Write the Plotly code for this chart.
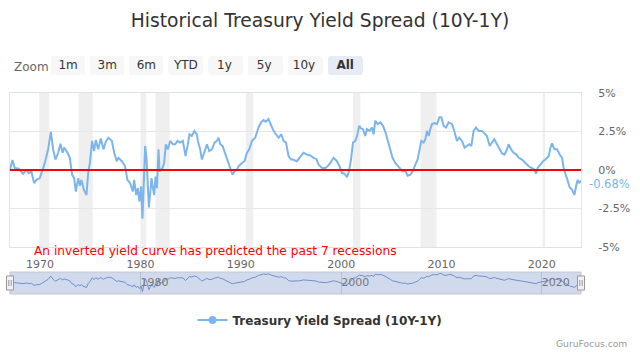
import pandas as pd
import plotly.graph_objects as go

# ---------------- data ----------------
YEARS = [
    1967.00, 1967.24, 1967.47, 1967.87, 1968.30, 1968.63, 1968.87, 1969.13, 1969.40, 1969.63,
    1969.97, 1970.13, 1970.47, 1970.80, 1971.07, 1971.30, 1971.53, 1971.80, 1972.03, 1972.23,
    1972.40, 1972.73, 1972.96, 1973.19, 1973.39, 1973.56, 1973.79, 1973.96, 1974.12, 1974.36,
    1974.62, 1974.79, 1974.96, 1975.18, 1975.38, 1975.55, 1975.78, 1976.05, 1976.31, 1976.58,
    1976.81, 1977.15, 1977.38, 1977.64, 1977.81, 1978.14, 1978.47, 1978.70, 1978.97, 1979.24,
    1979.37, 1979.57, 1979.74, 1979.90, 1980.07, 1980.20, 1980.34, 1980.47, 1980.60, 1980.70,
    1980.84, 1980.97, 1981.10, 1981.24, 1981.37, 1981.50, 1981.64, 1981.80, 1981.90, 1982.06,
    1982.20, 1982.36, 1982.53, 1982.73, 1982.96, 1983.23, 1983.46, 1983.69, 1983.96, 1984.23,
    1984.49, 1984.69, 1984.89, 1985.12, 1985.38, 1985.62, 1985.72, 1985.95, 1986.12, 1986.35,
    1986.62, 1986.85, 1987.12, 1987.38, 1987.62, 1987.78, 1987.95, 1988.18, 1988.45, 1988.71,
    1988.94, 1989.17, 1989.37, 1989.61, 1989.77, 1990.11, 1990.37, 1990.61, 1990.84, 1991.11,
    1991.44, 1991.76, 1992.03, 1992.26, 1992.50, 1992.76, 1993.03, 1993.26, 1993.50, 1993.76,
    1994.03, 1994.26, 1994.50, 1994.76, 1995.00, 1995.19, 1995.59, 1995.85, 1996.25, 1996.59,
    1996.92, 1997.25, 1997.52, 1997.75, 1998.09, 1998.42, 1998.65, 1998.91, 1999.24, 1999.58,
    1999.84, 2000.08, 2000.34, 2000.58, 2000.78, 2000.98, 2001.18, 2001.41, 2001.58, 2001.81,
    2001.98, 2002.18, 2002.40, 2002.57, 2002.84, 2003.07, 2003.23, 2003.40, 2003.63, 2003.90,
    2004.17, 2004.40, 2004.63, 2004.90, 2005.12, 2005.39, 2005.66, 2005.89, 2006.12, 2006.39,
    2006.62, 2006.89, 2007.12, 2007.39, 2007.62, 2007.82, 2007.99, 2008.22, 2008.39, 2008.55,
    2008.72, 2008.88, 2009.05, 2009.31, 2009.55, 2009.78, 2009.98, 2010.21, 2010.45, 2010.71,
    2011.05, 2011.31, 2011.54, 2011.77, 2012.04, 2012.30, 2012.54, 2012.77, 2012.97, 2013.20,
    2013.44, 2013.70, 2014.04, 2014.20, 2014.53, 2014.80, 2015.03, 2015.26, 2015.53, 2015.79,
    2016.03, 2016.26, 2016.46, 2016.69, 2016.93, 2017.19, 2017.46, 2017.69, 2018.02, 2018.36,
    2018.68, 2019.02, 2019.25, 2019.42, 2019.58, 2019.85, 2020.12, 2020.35, 2020.68, 2020.85,
    2021.02, 2021.25, 2021.51, 2021.78, 2022.01, 2022.17, 2022.34, 2022.57, 2022.77, 2023.01,
    2023.24, 2023.44, 2023.57, 2023.71, 2023.90,
]
SPREAD = [
    0.00, 0.65, 0.13, 0.08, -0.24, 0.00, -0.20, -0.10, -0.85, -0.64,
    -0.53, -0.20, 0.46, 1.34, 2.48, 1.34, 0.68, 1.12, 1.71, 1.12,
    1.45, 1.12, 0.79, -0.31, -0.53, -1.40, -0.53, -1.03, -0.64, -1.29,
    -1.62, -0.20, 0.46, 1.89, 1.23, 1.95, 1.34, 2.04, 1.34, 1.89,
    2.10, 1.89, 1.12, 0.57, 0.79, 0.57, 0.24, -0.64, -0.86, -1.40,
    -0.64, -1.62, -1.18, -2.06, -1.07, -3.16, -0.20, 1.56, 0.79, -0.64,
    -2.43, -1.51, -0.53, -1.18, -1.62, -0.42, -1.18, 1.34, -0.09, 0.02,
    0.13, 0.46, 1.67, 1.34, 1.89, 1.67, 1.67, 1.89, 1.78, 1.89,
    0.90, 1.56, 2.32, 2.21, 2.54, 2.32, 1.89, 1.34, 0.68, 1.12,
    1.67, 1.23, 1.34, 1.78, 1.89, 2.10, 1.67, 1.56, 1.00, 0.57,
    0.13, -0.31, -0.09, 0.02, 0.24, 0.46, 0.57, 1.12, 1.34, 1.89,
    2.10, 2.76, 3.09, 3.25, 3.14, 3.31, 2.87, 2.54, 2.32, 2.10,
    2.32, 1.89, 1.78, 0.90, 0.68, 0.68, 0.57, 0.79, 1.12, 1.00,
    0.94, 0.79, 0.72, 0.35, 0.13, 0.13, 0.24, 0.46, 0.79, 0.57,
    0.24, -0.20, -0.24, -0.46, -0.09, 0.68, 1.78, 1.89, 2.21, 2.87,
    2.70, 2.65, 2.21, 2.65, 2.54, 2.76, 2.32, 3.20, 2.98, 3.09,
    2.87, 2.48, 1.89, 1.34, 0.79, 0.46, 0.24, 0.13, -0.09, -0.04,
    -0.37, -0.31, -0.09, 0.35, 0.68, 1.34, 1.89, 1.78, 2.00, 2.54,
    2.21, 2.65, 2.98, 3.05, 2.98, 3.42, 3.42, 2.87, 2.76, 3.09,
    2.98, 2.43, 1.89, 2.10, 1.89, 1.45, 1.56, 1.67, 1.56, 2.54,
    2.76, 2.54, 2.54, 2.43, 2.21, 1.56, 1.78, 2.00, 1.67, 1.34,
    1.07, 1.00, 1.23, 1.67, 1.34, 1.12, 1.00, 0.79, 0.68, 0.46,
    0.24, 0.13, 0.02, -0.24, 0.13, 0.35, 0.57, 0.68, 0.90, 1.45,
    1.73, 1.34, 1.34, 1.00, 0.79, 0.13, -0.20, -0.75, -1.12, -1.29,
    -1.62, -0.96, -0.64, -0.86, -0.68,
]
SERIES_NAME = "Treasury Yield Spread (10Y-1Y)"

# NBER recessions (start, end)
RECESSION_START = ["1969-12-01", "1973-11-01", "1980-01-01", "1981-07-01", "1990-07-01",
                   "2001-03-01", "2007-12-01", "2020-02-01"]
RECESSION_END = ["1970-11-30", "1975-03-31", "1980-07-31", "1982-11-30", "1991-03-31",
                 "2001-11-30", "2009-06-30", "2020-04-30"]

Y_TICKS = [-5, -2.5, 0, 2.5, 5]
Y_LABELS = ["-5%", "-2.5%", "0%", "2.5%", "5%"]
BUTTON_LABELS = ["\u20091m\u2009", "\u20093m\u2009", "\u20096m\u2009", "YTD",
                 "\u00a01y\u00a0\u2009", "\u00a05y\u00a0\u2009", "10y\u2009", "\u00a0<b>All</b>\u00a0"]
BUTTON_SPECS = [(1, "month", "backward"), (3, "month", "backward"), (6, "month", "backward"),
                (1, "year", "todate"), (1, "year", "backward"), (5, "year", "backward"),
                (10, "year", "backward"), (None, None, None)]

TITLE = "Historical Treasury Yield Spread (10Y-1Y)"
NOTE = "An inverted yield curve has predicted the past 7 recessions"
CREDIT = "GuruFocus.com"


def dec_to_date(y):
    yr = int(y)
    return pd.Timestamp(year=yr, month=1, day=1) + pd.Timedelta(days=(y - yr) * 365.25)


dates = [dec_to_date(y) for y in YEARS]

FONT = "DejaVu Sans"
W, H = 640, 352
ML, MR, MT, MB = 10, 59, 93, 58
PW, PH = W - ML - MR, H - MT - MB


def px(x):
    return (x - ML) / PW


def py(y):
    return (H - MB - y) / PH


LINE_COLOR = "#7cb5ec"

fig = go.Figure()

# main series
fig.add_trace(go.Scatter(x=dates, y=SPREAD, mode="lines", name=SERIES_NAME,
                         line=dict(color=LINE_COLOR, width=2), showlegend=False,
                         legendgroup="s", xaxis="x", yaxis="y"))
# legend entry (line with circle marker)
fig.add_trace(go.Scatter(x=[None], y=[None], mode="lines+markers",
                         name="<b>" + SERIES_NAME + "</b>",
                         line=dict(color=LINE_COLOR, width=2),
                         marker=dict(color=LINE_COLOR, size=8, symbol="circle"),
                         legendgroup="s", showlegend=True, xaxis="x", yaxis="y"))
# navigator series
fig.add_trace(go.Scatter(x=dates, y=SPREAD, mode="lines", showlegend=False,
                         line=dict(color="#6f8fcb", width=1), hoverinfo="skip",
                         xaxis="x2", yaxis="y2"))

shapes = []
for s, e in zip(RECESSION_START, RECESSION_END):
    shapes.append(dict(type="rect", xref="x", yref="y domain", x0=s, x1=e, y0=0, y1=1,
                       fillcolor="#efefef", line=dict(width=0), layer="below"))
# red zero line
shapes.append(dict(type="line", xref="paper", yref="y", x0=0, x1=1, y0=0, y1=0,
                   line=dict(color="#ff0000", width=2), layer="above"))
# navigator mask
shapes.append(dict(type="rect", xref="x2 domain", yref="y2 domain", x0=0, x1=1, y0=0, y1=1,
                   fillcolor="rgba(102,133,194,0.3)", line=dict(color="#c4c8d0", width=1),
                   layer="below"))
# navigator handles
hw = 3.5 / PW
for cx in (0, 1):
    shapes.append(dict(type="rect", xref="x2 domain", yref="y2 domain",
                       x0=cx - hw, x1=cx + hw, y0=0.18, y1=0.82,
                       fillcolor="#f2f2f2", line=dict(color="#999999", width=1), layer="above"))
    for off in (-1.2 / PW, 1.2 / PW):
        shapes.append(dict(type="line", xref="x2 domain", yref="y2 domain",
                           x0=cx + off, x1=cx + off, y0=0.36, y1=0.64,
                           line=dict(color="#999999", width=1), layer="above"))

annotations = [
    dict(text="Zoom", xref="paper", yref="paper", x=px(12), y=py(67), xanchor="left",
         yanchor="middle", showarrow=False, font=dict(family=FONT, size=12, color="#666666")),
    dict(text=NOTE, xref="paper", yref="paper", x=px(32), y=py(251), xanchor="left",
         yanchor="middle", showarrow=False, font=dict(family=FONT, size=12.2, color="#ff0000")),
    dict(text=f"{SPREAD[-1]:.2f}%", xref="paper", yref="y", x=1, y=SPREAD[-1], xshift=6,
         yshift=-4, xanchor="left", yanchor="middle", showarrow=False,
         font=dict(family=FONT, size=11.5, color=LINE_COLOR)),
    dict(text=CREDIT, xref="paper", yref="paper", x=px(629), y=py(343), xanchor="right",
         yanchor="middle", showarrow=False, font=dict(family=FONT, size=9.2, color="#999999")),
]

buttons = []
for lab, (cnt, step, mode) in zip(BUTTON_LABELS, BUTTON_SPECS):
    if step is None:
        buttons.append(dict(label=lab, step="all"))
    else:
        buttons.append(dict(label=lab, count=cnt, step=step, stepmode=mode))

fig.update_layout(
    width=W, height=H,
    margin=dict(l=ML, r=MR, t=MT, b=MB, autoexpand=False),
    paper_bgcolor="white", plot_bgcolor="white",
    font=dict(family=FONT, color="#333333"),
    title=dict(text=TITLE, x=0.5, xref="container", xanchor="center",
               y=1 - 20 / H, yref="container", yanchor="middle",
               font=dict(family=FONT, size=18.7, color="#333333")),
    xaxis=dict(type="date", autorange=True, domain=[0, 1], anchor="y",
               tick0="1970-01-01", dtick="M120", tickformat="%Y",
               ticks="", ticklabelstandoff=7, showgrid=False, zeroline=False,
               showline=True, mirror=True, linecolor="#dde2ea", linewidth=1,
               tickfont=dict(family=FONT, size=11, color="#666666"),
               rangeselector=dict(buttons=buttons, x=px(51), xanchor="left",
                                  y=py(56), yanchor="top",
                                  bgcolor="#f7f7f7", activecolor="#e6ebf5",
                                  font=dict(family=FONT, size=12, color="#333333"))),
    yaxis=dict(domain=[py(247), 1], anchor="x", side="right", range=[-5, 5],
               tickvals=Y_TICKS, ticktext=Y_LABELS, ticks="", ticklabelstandoff=14,
               showgrid=True, gridcolor="#e6e6e6", zeroline=False,
               showline=True, mirror=True, linecolor="#e6e6e6",
               tickfont=dict(family=FONT, size=11, color="#666666")),
    xaxis2=dict(type="date", autorange=True, domain=[0, 1], anchor="y2",
                tick0="1980-01-01", dtick="M240", tickformat="%Y",
                ticks="", ticklabelposition="inside right", showgrid=True,
                gridcolor="rgba(110,120,140,0.25)", zeroline=False, showline=False,
                tickfont=dict(family=FONT, size=11, color="#777777")),
    yaxis2=dict(domain=[0, py(272)], anchor="x2", range=[-4.0, 4.0], showticklabels=False,
                showgrid=False, zeroline=False, ticks=""),
    showlegend=True,
    legend=dict(orientation="h", x=px(320), xanchor="center", y=py(320), yanchor="middle",
                font=dict(family=FONT, size=12, color="#333333"), bgcolor="rgba(0,0,0,0)"),
    shapes=shapes, annotations=annotations, hovermode="x",
)

fig.write_html("out.html")
